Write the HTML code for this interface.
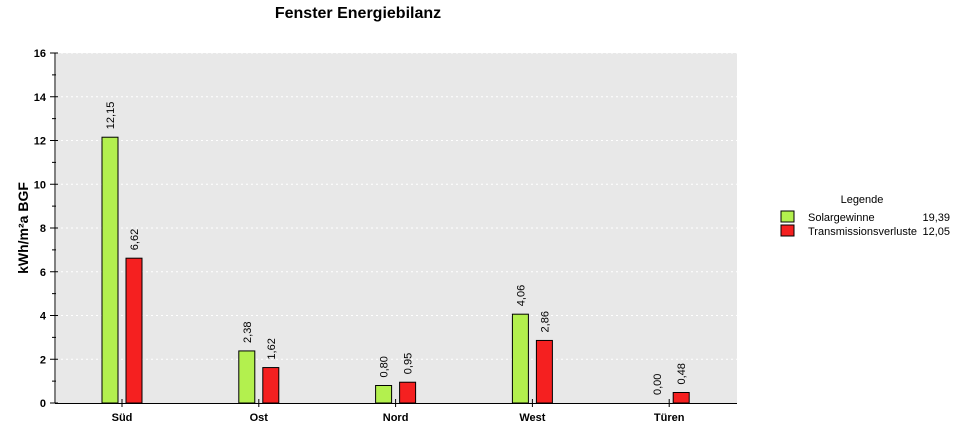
<!DOCTYPE html>
<html><head><meta charset="utf-8"><style>
body{margin:0;background:#fff;font-family:"Liberation Sans",Arial,sans-serif;}
svg text{font-family:"Liberation Sans",Arial,sans-serif;}
</style></head><body>
<svg id="chart" width="957" height="432" xmlns="http://www.w3.org/2000/svg">
<text x="358" y="18" font-size="16" font-weight="bold" text-anchor="middle">Fenster Energiebilanz</text>
<rect x="56" y="53" width="681" height="350" fill="#e8e8e8"/>
<g id="grid"></g><g id="bars"></g><g id="axes"></g>
<text transform="translate(28,228) rotate(-90)" font-size="14" font-weight="bold" text-anchor="middle">kWh/m²a BGF</text>
<g>
<text x="862" y="203" font-size="11" text-anchor="middle">Legende</text>
<rect x="781" y="211" width="13" height="11" fill="#b3f04e" stroke="#000"/>
<text x="808" y="221" font-size="11">Solargewinne</text>
<text x="950" y="221" font-size="11" text-anchor="end">19,39</text>
<rect x="781" y="225" width="13" height="11" fill="#f52020" stroke="#000"/>
<text x="808" y="235" font-size="11">Transmissionsverluste</text>
<text x="950" y="235" font-size="11" text-anchor="end">12,05</text>
</g>
</svg>
<script>
const categories=["Süd","Ost","Nord","West","Türen"];
const solar=[12.15,2.38,0.80,4.06,0.00];
const trans=[6.62,1.62,0.95,2.86,0.48];
const yTicks=[0,2,4,6,8,10,12,14,16];
const NS="http://www.w3.org/2000/svg";
const y=v=>403-v*(350/16);
const xc=i=>122+i*136.8;
function mk(tag,attrs,parent,txt){const e=document.createElementNS(NS,tag);for(const k in attrs)e.setAttribute(k,attrs[k]);if(txt!==undefined)e.textContent=txt;parent.appendChild(e);return e;}
const grid=document.getElementById('grid'),bars=document.getElementById('bars'),axes=document.getElementById('axes');
yTicks.forEach(t=>{
  if(t>0){const g=mk('line',{x1:56,x2:737,y1:y(t),y2:y(t),stroke:'#fff','stroke-dasharray':'2,3'},grid);
  
  }
  const tk=mk('line',{x1:50,x2:58,y1:y(t),y2:y(t),stroke:'#000'},axes);
  
  
  const mt=mk('line',{x1:52,x2:56,y1:y(t+1),y2:y(t+1),stroke:'#000'},axes);
  if(t===16)mt.remove();
  
  
  const lb=mk('text',{x:46,y:y(t)+4,'font-size':11,'font-weight':'bold','text-anchor':'end'},axes,String(t));
  
  
});
const ya=mk('line',{x1:55,x2:55,y1:53,y2:403,stroke:'#000'},axes);


const xa=mk('line',{x1:55,x2:737,y1:403.5,y2:403.5,stroke:'#000'},axes);


const fmt=v=>v.toFixed(2).replace('.',',');
function bar(i,v,off,fill,name){
  const x=xc(i)+off;
  if(v>0){const r=mk('rect',{x:x,y:y(v),width:16,height:403-y(v),fill:fill,stroke:'#000'},bars);
  
  }
  const tx=x+12,ty=y(v)-8;
  const l=mk('text',{transform:`translate(${tx},${ty}) rotate(-90)`,'font-size':11},bars,fmt(v));
  
  
}
categories.forEach((c,i)=>{
  bar(i,solar[i],-20,'#b3f04e','solar');
  bar(i,trans[i],4,'#f52020','trans');
  const t=mk('line',{x1:xc(i),x2:xc(i),y1:399,y2:407,stroke:'#000'},axes);
  
  
  const l=mk('text',{x:xc(i),y:421,'font-size':11,'font-weight':'bold','text-anchor':'middle'},axes,c);
  
  
});
</script>
</body></html>
